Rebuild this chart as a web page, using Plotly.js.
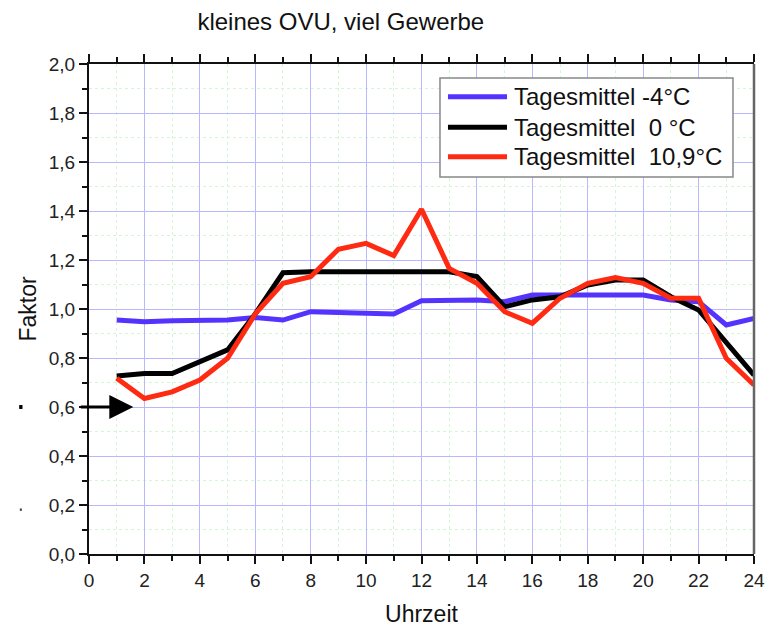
<!DOCTYPE html>
<html>
<head>
<meta charset="utf-8">
<script src="https://cdn.plot.ly/plotly-3.0.1.min.js"></script>
<style>html,body{margin:0;padding:0;background:#fff}#chart{width:771px;height:630px}</style>
</head>
<body>
<div id="chart"></div>
<script>
const hours = [1,2,3,4,5,6,7,8,9,10,11,12,13,14,15,16,17,18,19,20,21,22,23,24];
const blueVals  = [0.955,0.948,0.952,0.955,0.955,0.965,0.955,0.989,0.986,0.98,0.98,1.034,1.037,1.037,1.03,1.057,1.057,1.057,1.057,1.057,1.037,1.03,0.935,0.962];
const blackVals = [0.727,0.737,0.737,0.785,0.833,0.98,1.148,1.152,1.152,1.152,1.155,1.152,1.152,1.132,1.009,1.037,1.05,1.098,1.118,1.118,1.05,0.996,0.86,0.73];
const redVals   = [0.717,0.635,0.662,0.71,0.799,0.98,1.105,1.132,1.244,1.268,1.218,1.407,1.166,1.105,0.989,0.942,1.044,1.105,1.128,1.105,1.044,1.044,0.799,0.69];
const seriesNames = ["Tagesmittel -4°C", "Tagesmittel  0 °C", "Tagesmittel  10,9°C"];
const seriesColors = ["#5533ff", "#000000", "#ff2a12"];

const font = "Liberation Sans, Arial, sans-serif";
const valueSets = [blueVals, blackVals, redVals];
const traces = valueSets.map((v, i) => ({
  x: hours, y: v, name: seriesNames[i], mode: "lines", showlegend: false,
  line: {color: seriesColors[i], width: 5}
}));

const axisCommon = {
  showline: true, linecolor: "#111", linewidth: 2,
  ticks: "outside", ticklen: 8, tickwidth: 2, tickcolor: "#111",
  showgrid: true, gridcolor: "#b8b8ff", gridwidth: 1, zeroline: false,
  tickfont: {family: font, size: 19, color: "#222"}
};

// custom legend (box, sample lines, labels) in paper coordinates
const legendBox = {x0: 0.5278, x1: 0.9684, y0: 0.7694, y1: 0.9714};
const legendRows = [0.9333, 0.8708, 0.8108];
const legendShapes = [
  {type: "rect", xref: "paper", yref: "paper", x0: legendBox.x0, x1: legendBox.x1, y0: legendBox.y0, y1: legendBox.y1,
   fillcolor: "#fff", line: {color: "#888", width: 1.5}, layer: "above"}
].concat(legendRows.map((yy, i) => ({
  type: "line", xref: "paper", yref: "paper", x0: 0.5398, x1: 0.6286, y0: yy, y1: yy,
  line: {color: seriesColors[i], width: 5}, layer: "above"
})));
const legendAnnots = legendRows.map((yy, i) => ({
  xref: "paper", yref: "paper", x: 0.6361, y: yy, xanchor: "left", yanchor: "middle",
  text: seriesNames[i].replace(/  /g, " &nbsp;"), showarrow: false,
  font: {family: font, size: 24, color: "#111"}
}));

const layout = {
  width: 771, height: 630,
  paper_bgcolor: "#fff", plot_bgcolor: "#fff",
  margin: {l: 89, r: 17, t: 64, b: 76},
  separators: ",.",
  showlegend: false,
  title: {text: "kleines OVU, viel Gewerbe", font: {family: font, size: 24, color: "#111"},
          xref: "container", x: 0.442, xanchor: "center", yref: "container", y: 0.966, yanchor: "middle"},
  xaxis: Object.assign({}, axisCommon, {
    range: [0, 24], dtick: 2, tick0: 0, mirror: "ticks",
    minor: {dtick: 1, showgrid: true, gridcolor: "#d6f5d6", griddash: "dot", ticks: "outside", ticklen: 5, tickwidth: 2, tickcolor: "#111"},
    title: {text: "Uhrzeit", font: {family: font, size: 23, color: "#111"}, standoff: 16}
  }),
  yaxis: Object.assign({}, axisCommon, {
    range: [0, 2], dtick: 0.2, tick0: 0, tickformat: ".1f", mirror: false,
    minor: {dtick: 0.1, showgrid: true, gridcolor: "#d6f5d6", griddash: "dot", ticks: "outside", ticklen: 5, tickwidth: 2, tickcolor: "#111"},
    title: {text: "Faktor", font: {family: font, size: 23, color: "#111"}, standoff: 6}
  }),
  annotations: [
    {x: 1.6, y: 0.6, xref: "x", yref: "y", ax: -0.35, ay: 0.6, axref: "x", ayref: "y",
     showarrow: true, arrowhead: 2, arrowsize: 1.6, arrowwidth: 3, arrowcolor: "#000", text: ""}
  ].concat(legendAnnots),
  shapes: [
    {type: "line", xref: "paper", yref: "paper", x0: 1, x1: 1, y0: 0, y1: 1, line: {color: "#666", width: 2.5}, layer: "above"},
    {type: "rect", xref: "paper", yref: "paper", x0: -0.105, x1: -0.1, y0: 0.296, y1: 0.304, fillcolor: "#000", line: {width: 0}},
    {type: "rect", xref: "paper", yref: "paper", x0: -0.104, x1: -0.101, y0: 0.088, y1: 0.093, fillcolor: "#444", line: {width: 0}}
  ].concat(legendShapes)
};

Plotly.newPlot("chart", traces, layout, {displayModeBar: false, staticPlot: true});
</script>
</body>
</html>
